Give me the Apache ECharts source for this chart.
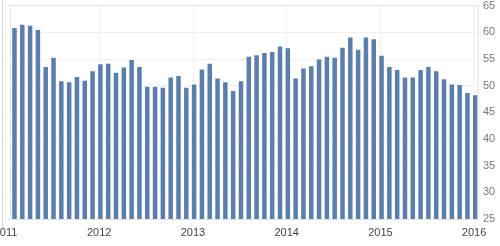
<!DOCTYPE html>
<html>
<head>
<meta charset="utf-8">
<style>
html,body{margin:0;padding:0;background:#fff;}
#chart{width:500px;height:246px;}
</style>
<script src="https://cdn.jsdelivr.net/npm/echarts@6/dist/echarts.min.js"></script>
</head>
<body>
<div id="chart"></div>
<script>
// Monthly data, Jan 2011 .. Dec 2015
const months = [
  '2011-01','2011-02','2011-03','2011-04','2011-05','2011-06','2011-07','2011-08','2011-09','2011-10','2011-11','2011-12',
  '2012-01','2012-02','2012-03','2012-04','2012-05','2012-06','2012-07','2012-08','2012-09','2012-10','2012-11','2012-12',
  '2013-01','2013-02','2013-03','2013-04','2013-05','2013-06','2013-07','2013-08','2013-09','2013-10','2013-11','2013-12',
  '2014-01','2014-02','2014-03','2014-04','2014-05','2014-06','2014-07','2014-08','2014-09','2014-10','2014-11','2014-12',
  '2015-01','2015-02','2015-03','2015-04','2015-05','2015-06','2015-07','2015-08','2015-09','2015-10','2015-11','2015-12'
];
const values = [
  60.8, 61.4, 61.2, 60.4, 53.5, 55.2, 50.8, 50.6, 51.6, 50.9, 52.7, 54.0,
  54.1, 52.4, 53.4, 54.8, 53.5, 49.8, 49.8, 49.6, 51.5, 51.8, 49.6, 50.2,
  53.0, 54.1, 51.3, 50.6, 49.0, 50.8, 55.4, 55.7, 56.1, 56.3, 57.3, 57.0,
  51.3, 53.2, 53.6, 54.9, 55.4, 55.2, 57.1, 59.0, 56.7, 59.0, 58.7, 55.6,
  53.5, 52.9, 51.5, 51.5, 52.9, 53.5, 52.7, 51.2, 50.2, 50.1, 48.6, 48.2
];
const yearLabels = ['2011','2012','2013','2014','2015','2016'];
const yTicks = {min: 25, max: 65, step: 5};

// bars sit at month end on a month-unit axis starting 2011-01-01
const baseYear = 2011;
const barOffset = 1.15;
const points = months.map((m, i) => {
  const [y, mo] = m.split('-').map(Number);
  return [(y - baseYear) * 12 + (mo - 1) + barOffset, values[i]];
});

const chart = echarts.init(document.getElementById('chart'), null, {renderer: 'canvas'});
chart.setOption({
  animation: false,
  backgroundColor: '#fff',
  grid: {left: 5.5, right: 22, top: 5.5, bottom: 27, containLabel: false, outerBoundsMode: 'none'},
  xAxis: {
    type: 'value',
    min: 0,
    max: 60.5,
    interval: 12,
    axisLine: {show: false},
    axisTick: {show: false},
    splitLine: {show: true, lineStyle: {color: '#f0f0f0', width: 1}},
    axisLabel: {
      color: '#444',
      fontFamily: 'Liberation Sans, Arial, sans-serif',
      fontSize: 11,
      margin: 8,
      showMaxLabel: false,
      alignMinLabel: 'center',
      alignMaxLabel: 'center',
      formatter: function (v) {
        const k = Math.round(v / 12);
        if (Math.abs(v - k * 12) > 0.01) return '';
        return yearLabels[k] || '';
      }
    }
  },
  yAxis: {
    type: 'value',
    position: 'right',
    min: yTicks.min,
    max: yTicks.max,
    interval: yTicks.step,
    axisLine: {show: false},
    axisTick: {show: false},
    splitLine: {show: true, lineStyle: {color: '#efefef', width: 1}},
    axisLabel: {
      color: '#777',
      fontFamily: 'Liberation Sans, Arial, sans-serif',
      fontSize: 11,
      margin: 5
    }
  },
  series: [{
    type: 'bar',
    data: points,
    barWidth: 4.5,
    itemStyle: {color: '#5a7fad'},
    silent: true
  }],
  graphic: [
    {type: 'rect', shape: {x: 10.5, y: 5.5, width: 467.5, height: 214}, style: {fill: null, stroke: '#e4e4e4', lineWidth: 1}, silent: true, z: 100},
    {type: 'line', shape: {x1: 2.5, y1: 0, x2: 2.5, y2: 228}, style: {stroke: '#d8d8d8', lineWidth: 1}, silent: true, z: 100}
  ]
});
</script>
</body>
</html>
